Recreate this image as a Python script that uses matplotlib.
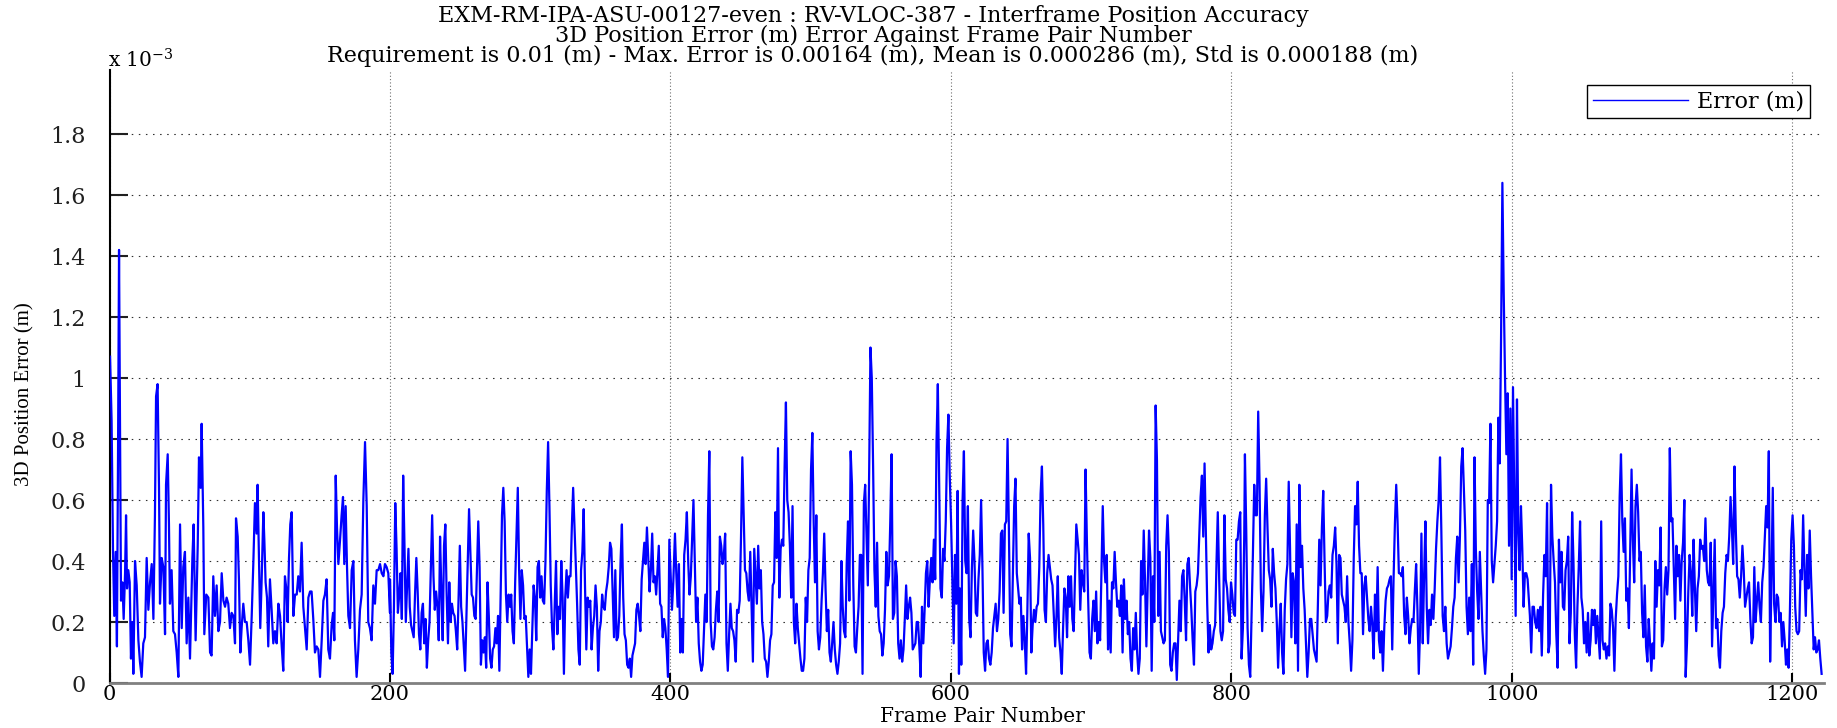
import numpy as np
import matplotlib
matplotlib.use("Agg")
import matplotlib.pyplot as plt

plt.rcParams['mathtext.fontset'] = 'dejavuserif'
plt.rcParams['lines.scale_dashes'] = False

title_lines = ["EXM-RM-IPA-ASU-00127-even : RV-VLOC-387 - Interframe Position Accuracy",
               "3D Position Error (m) Error Against Frame Pair Number",
               "Requirement is 0.01 (m) - Max. Error is 0.00164 (m), Mean is 0.000286 (m), Std is 0.000188 (m)"]
xlabel = "Frame Pair Number"
ylabel = "3D Position Error (m)"
legend_label = "Error (m)"
xticks = [0, 200, 400, 600, 800, 1000, 1200]
yticks = [0, 0.2, 0.4, 0.6, 0.8, 1.0, 1.2, 1.4, 1.6, 1.8]
ytick_labels = ["0", "0.2", "0.4", "0.6", "0.8", "1", "1.2", "1.4", "1.6", "1.8"]

# error values in units of 1e-5 m
seg1_frames = [0.4,1.5,2.5,3.4,4.4,5.3,6.1,6.8,7.5,8.2,
 9.2,10.1,11.1,11.8,12.5,13.4,14.4,15.3,16.3,17.0,
 18.2,19.4,20.6,21.7,22.9,24.1,25.3,26.5,27.7,28.9,
 30.1,31.3,32.4,33.2,34.3,35.3,36.0,37.2,38.4,39.6,
 40.3,41.5,42.4,43.1,44.3,45.5,46.7,47.9,49.1,50.3,
 51.5,52.6,53.8,55.0,56.2,57.4,59.1,60.0,61.4,62.9,
 63.8,65.0,65.7,66.9,67.6,69.0,70.5,71.7,72.8,74.0,
 75.2,76.4,77.6,78.8,80.0,81.2,82.4,83.5,84.7,85.9,
 87.1,88.3,89.5,90.2,91.4,92.3,93.3,94.2,95.4,96.6,
 97.8,99.0,100.2,101.4,102.6,103.7,104.9,105.6,106.6,107.5,
 108.5,109.7,110.4,111.3,112.3,113.2,114.4,115.6,116.8,118.0,
 119.2,120.4,121.6,122.8,123.9,125.1,126.3,127.0,128.0,128.9,
 129.9,131.1,132.3,133.5,134.6,135.8,137.0,138.2,139.4,140.6,
 141.8,143.0,144.1,145.3,146.5,147.7,148.9,150.1,151.3,152.5,
 153.6,154.8,156.0,157.2,158.4,159.4,160.3,161.3,162.2,163.2,
 164.4,165.5,166.5,167.4,168.4,169.3,170.3,171.5,172.7,173.9,
 175.0,176.2,177.4,178.6,179.8,181.0,182.2,183.4,184.5,185.7,
 186.9,188.1,189.3,190.5,191.7,192.9,194.1,195.3,196.4,197.6,
 198.8,200.0]
seg1 = [107,86,43,22,43,12,77,142,82,27,
 33,21,36,55,31,37,33,8,20,3,
 40,32,14,7,2,13,15,41,24,33,
 39,21,55,94,98,64,26,41,38,16,
 65,75,52,26,37,17,16,10,2,52,
 18,38,43,13,28,8,41,52,14,45,
 74,64,85,51,16,29,28,10,9,35,
 22,32,17,20,36,27,25,28,26,18,
 23,22,13,54,48,34,10,18,26,20,
 20,14,6,22,40,59,49,65,41,18,
 34,56,47,33,28,12,34,24,13,17,
 13,26,22,12,4,35,30,20,41,52,
 56,22,29,29,35,30,46,25,18,11,
 28,30,30,21,10,12,11,2,14,27,
 29,34,11,8,19,23,14,68,51,39,
 47,55,61,39,58,39,22,18,37,40,
 14,2,11,24,29,60,79,58,20,18,
 14,32,26,37,37,39,36,35,39,38,
 36,23]

seg2_span = (200.0, 402.0)
seg2 = [34,10,3,25,59,44,23,29,36,21,68,45,20,32,44,25,19,17,15,29,41,30,16,11,23,26,13,21,5,14,
 20,38,55,35,24,30,25,14,48,30,14,45,52,29,13,33,20,26,23,22,17,11,27,45,25,20,12,4,22,39,
 57,43,29,28,22,21,37,53,38,6,14,10,15,5,33,22,8,5,11,12,18,13,22,4,30,55,64,53,29,20,
 29,25,29,17,13,33,48,64,37,21,37,32,21,22,12,2,11,3,17,32,28,14,38,40,28,35,27,26,40,63,
 79,58,32,18,11,26,40,16,25,21,40,28,3,28,37,28,35,35,51,64,52,39,26,11,6,37,43,57,32,11,
 28,25,27,11,18,22,32,25,4,17,20,29,25,24,30,33,38,46,44,30,15,37,14,15,22,40,52,28,16,14,
 6,5,8,2,9,11,13,24,26,22,17,34,40,46,39,51,41,30,37,49,33,35,29,37,45,26,25,15,21,18,
 11,2,47,35,24,33]

seg3_span = (403.2, 605.7)
seg3 = [49,36,25,39,10,21,10,42,47,56,40,29,35,47,60,40,20,28,13,7,4,6,18,29,20,55,76,20,12,11,
 15,24,30,20,48,45,39,42,49,13,4,16,26,18,17,14,7,24,23,27,48,74,56,37,36,30,27,43,25,7,
 44,35,26,45,31,37,20,16,8,7,2,7,14,16,32,33,56,41,77,28,44,47,45,71,92,60,56,45,28,58,
 20,13,26,18,13,8,4,4,8,28,20,37,41,70,82,53,33,55,17,11,15,27,36,49,31,17,24,10,7,13,
 20,11,6,3,7,13,40,25,17,15,39,53,27,76,65,32,12,10,18,25,42,42,3,59,65,49,32,69,110,100,
 71,37,25,46,22,17,16,9,13,24,43,32,35,53,75,21,23,40,35,13,8,14,7,11,21,32,21,25,28,23,
 11,12,13,20,20,12,2,25,13,24,36,40,25,34,41,33,47,34,79,98,66,31,28,44,40,53,77,88,68,53,
 34,13,42,26,63,3]

seg4_span = (606.4, 809.1)
seg4 = [31,6,60,76,40,36,58,21,15,37,50,40,23,22,34,42,60,38,10,4,13,14,8,6,10,18,22,26,17,21,
 30,49,50,23,52,53,80,51,16,12,36,58,67,36,31,26,28,11,22,14,3,24,49,41,10,19,24,20,25,26,
 38,62,71,52,24,20,36,42,38,34,32,22,12,22,35,15,10,3,18,31,28,15,35,25,35,21,17,35,52,47,
 42,24,37,33,30,70,47,27,10,8,21,27,17,30,13,20,14,36,58,40,33,42,11,27,10,33,31,43,33,25,
 27,22,32,10,34,21,27,16,20,8,4,18,11,23,10,3,8,40,29,50,33,12,32,50,41,4,35,20,91,73,
 22,43,17,15,13,14,45,55,43,6,4,10,13,13,1,14,27,17,35,37,27,14,39,41,32,24,14,6,30,32,
 36,49,61,68,48,72,48,26,10,19,11,13,17,19,39,56,35,17,14,17,55,34,31,24,20,33,29,23,22,47,
 47,53,56,8,18,48]

seg5_span = (809.6, 1012.1)
seg5 = [75,50,18,6,2,22,42,65,55,55,89,66,31,17,30,55,67,51,37,34,25,44,36,31,20,5,18,26,10,3,
 24,34,39,66,44,15,36,33,13,52,4,65,38,45,31,24,13,2,10,21,21,16,11,9,7,26,47,32,51,63,
 40,20,22,30,32,28,42,45,51,39,13,42,41,29,27,25,20,35,20,13,4,14,41,58,52,66,45,36,36,16,
 32,35,28,21,17,25,19,8,29,17,38,14,10,17,4,18,27,31,32,34,35,11,34,52,65,53,36,36,35,38,
 22,16,28,22,13,18,21,20,30,39,24,3,18,49,13,35,53,25,13,24,19,29,21,31,44,53,60,74,50,22,
 17,25,13,8,10,12,18,25,28,41,48,33,48,71,77,63,50,25,16,28,17,39,6,74,44,30,21,43,30,17,
 9,3,11,60,59,85,40,33,39,45,53,87,72,113,164,128,100,75,95,45,90,34,97,60,22,93,50,37,58,44,
 25,36,36,34,27]

seg6_span = (1012.8, 1220.8)
seg6 = [22,10,25,25,20,18,24,17,25,9,29,42,35,59,10,13,65,48,40,33,16,5,47,33,43,25,24,37,40,48,
 13,23,56,40,16,5,25,38,53,28,24,13,20,10,23,9,14,24,19,24,13,22,15,8,53,14,11,13,8,12,
 9,26,24,18,4,21,29,35,61,75,53,43,54,27,31,18,45,70,47,33,58,65,56,40,43,23,15,32,12,7,
 21,13,4,13,8,40,25,37,32,51,12,14,31,38,29,37,77,53,54,38,21,45,35,42,27,40,46,60,2,13,
 30,42,36,22,47,31,17,31,35,47,44,45,40,54,37,33,32,46,12,29,47,18,21,9,5,17,23,25,36,42,
 40,48,61,51,39,71,50,35,34,28,35,45,37,25,28,31,33,21,13,15,38,20,27,33,25,20,33,38,48,58,
 51,76,7,34,64,26,20,29,28,20,23,12,20,14,6,11,5,24,47,55,45,25,17,16,17,37,34,55,37,22,
 42,31,50,35,23,11,15,10,11,14,8,3]

n1 = min(len(seg1_frames), len(seg1))
xs = [np.array(seg1_frames[:n1])]
ys = [np.array(seg1[:n1], dtype=float)]
for span, seg in [(seg2_span, seg2), (seg3_span, seg3), (seg4_span, seg4),
                  (seg5_span, seg5), (seg6_span, seg6)]:
    xs.append(np.linspace(span[0], span[1], len(seg)))
    ys.append(np.array(seg, dtype=float))
x = np.concatenate(xs)
y = np.concatenate(ys) / 100.0   # in units of 1e-3 m

W, H = 1837, 728
fig = plt.figure(figsize=(W / 100, H / 100), dpi=100)
L, R, T, B = 109.5, 1824, 70, 683
ax = fig.add_axes([L / W, 1 - B / H, (R - L) / W, (B - T) / H])

ax.plot(x, y, color='#0000ff', lw=1.6, label=legend_label, zorder=3)
ax.set_xlim(0, 1222.5)
ax.set_ylim(0, 2.01)
ax.set_xticks(xticks)
ax.set_xticklabels([str(t) for t in xticks])
ax.set_yticks(yticks)
ax.set_yticklabels(ytick_labels)

ax.xaxis.grid(True, color='#707070', linestyle=(0, (0.8, 1.6)), lw=0.8)
ax.yaxis.grid(True, color='#303030', linestyle=(0, (1.1, 4.0)), lw=0.8)
ax.set_axisbelow(True)

for lab in ax.get_yticklabels():
    lab.set_fontfamily('DejaVu Serif')
    lab.set_fontsize(16)
for lab in ax.get_xticklabels():
    lab.set_fontfamily('DejaVu Serif')
    lab.set_fontsize(15)
ax.tick_params(axis='y', direction='in', length=13, width=1.5, pad=17, colors='#202020')
ax.tick_params(axis='x', direction='in', length=7, width=1.5, pad=1.5, colors='black')

ax.spines['top'].set_visible(False)
ax.spines['right'].set_visible(False)
ax.spines['left'].set_color('black')
ax.spines['left'].set_linewidth(1.5)
ax.spines['bottom'].set_color('#808080')
ax.spines['bottom'].set_linewidth(2.0)

leg = ax.legend(loc='upper right', bbox_to_anchor=(0.9918, 0.9755), borderaxespad=0,
                fancybox=False, edgecolor='black', framealpha=1,
                prop={'family': 'DejaVu Serif', 'size': 16}, handlelength=4.3,
                borderpad=0.25, handletextpad=0.4)
leg.get_frame().set_linewidth(1.0)
leg.get_lines()[0].set_linewidth(1.0)

for txt, yc in zip(title_lines, [16, 36, 56]):
    fig.text(873 / W, 1 - yc / H, txt, ha='center', va='center',
             family='DejaVu Serif', fontsize=16)

fig.text(108 / W, 1 - 67 / H, r'x 10$^{-3}$', ha='left', va='baseline',
         family='DejaVu Serif', fontsize=14.5)
fig.text(982 / W, 1 - 717 / H, xlabel, ha='center', va='center',
         family='DejaVu Serif', fontsize=14.5)
fig.text(25 / W, 1 - 394 / H, ylabel, ha='center', va='center', rotation=90,
         family='Liberation Serif', fontsize=15)

fig.savefig('out.png', dpi=100, facecolor='white')
